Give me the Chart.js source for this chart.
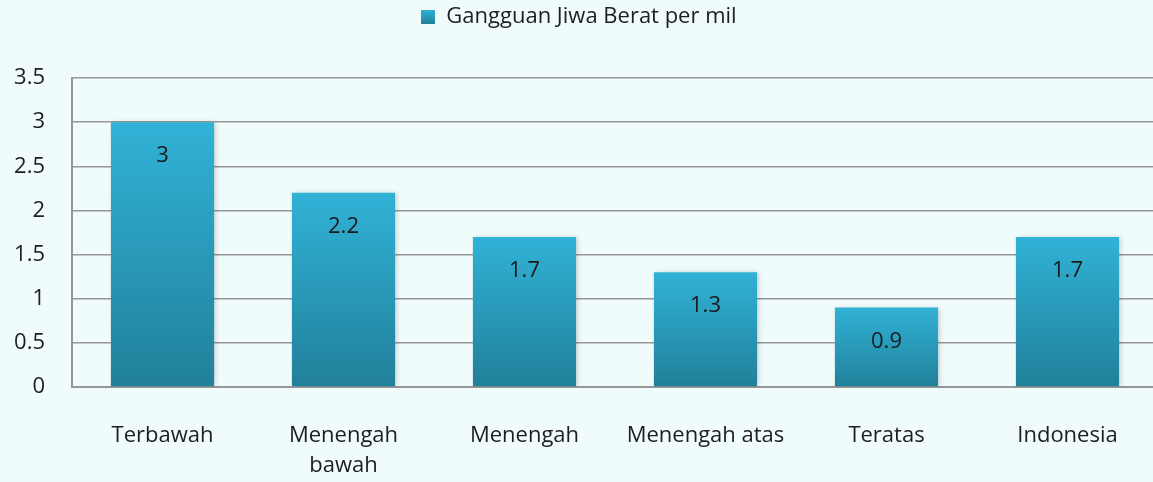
<!DOCTYPE html>
<html>
<head>
<meta charset="utf-8">
<script src="https://cdn.jsdelivr.net/npm/chart.js@4/dist/chart.umd.min.js"></script>
<style>
  html, body { margin: 0; padding: 0; background: #f0fbfc; overflow: hidden; }
  #wrap { width: 1158px; height: 482px; }
</style>
</head>
<body>
<div id="wrap"><canvas id="chart"></canvas></div>
<script>
const categories = [['Terbawah'], ['Menengah', 'bawah'], ['Menengah'], ['Menengah atas'], ['Teratas'], ['Indonesia']];
const values = [3, 2.2, 1.7, 1.3, 0.9, 1.7];
const yTicks = [0, 0.5, 1, 1.5, 2, 2.5, 3, 3.5];
const seriesName = 'Gangguan Jiwa Berat per mil';

Chart.defaults.font.family = "'Open Sans', 'Noto Sans', sans-serif";
Chart.defaults.font.size = 22;
Chart.defaults.color = '#1e1e1e';

function barGradient(context) {
  const chart = context.chart;
  const y = chart.scales.y;
  if (!y || !chart.chartArea) return '#2ba3c6';
  const top = y.getPixelForValue(context.raw);
  const bottom = y.getPixelForValue(0);
  const g = chart.ctx.createLinearGradient(0, top, 0, bottom);
  g.addColorStop(0, '#31b2d7');
  g.addColorStop(1, '#21809a');
  return g;
}

// extra room under the legend
const legendGap = {
  id: 'legendGap',
  beforeInit(chart) {
    const fit = chart.legend.fit;
    chart.legend.fit = function () {
      fit.bind(chart.legend)();
      this.height += 40;
    };
  }
};

const barShadow = {
  id: 'barShadow',
  beforeDatasetDraw(chart) {
    const ctx = chart.ctx;
    ctx.save();
    ctx.shadowColor = 'rgba(0,0,0,0.18)';
    ctx.shadowBlur = 5;
    ctx.shadowOffsetX = 2;
  },
  afterDatasetDraw(chart) {
    chart.ctx.restore();
  }
};

const valueLabels = {
  id: 'valueLabels',
  afterDatasetsDraw(chart) {
    const ctx = chart.ctx;
    const meta = chart.getDatasetMeta(0);
    ctx.save();
    ctx.font = "22px 'Open Sans', 'Noto Sans', sans-serif";
    ctx.fillStyle = '#1a1a1a';
    ctx.textAlign = 'center';
    ctx.textBaseline = 'middle';
    meta.data.forEach((bar, i) => {
      ctx.fillText(String(values[i]), bar.x, bar.y + 34);
    });
    ctx.restore();
  }
};

const swatch = document.createElement('canvas');
swatch.width = 14; swatch.height = 14;
const sctx = swatch.getContext('2d');
const sg = sctx.createLinearGradient(0, 0, 0, 14);
sg.addColorStop(0, '#31b2d7');
sg.addColorStop(1, '#21809a');
sctx.fillStyle = sg;
sctx.fillRect(0, 0, 14, 14);

new Chart(document.getElementById('chart'), {
  type: 'bar',
  data: {
    labels: categories,
    datasets: [{
      label: seriesName,
      data: values,
      backgroundColor: barGradient,
      borderWidth: 0,
      barPercentage: 0.57,
      categoryPercentage: 1
    }]
  },
  options: {
    responsive: true,
    maintainAspectRatio: false,
    animation: false,
    layout: { padding: 0 },
    plugins: {
      legend: {
        position: 'top',
        labels: {
          usePointStyle: true,
          pointStyle: swatch,
          boxWidth: 14,
          boxHeight: 14,
          padding: 6,
          color: '#1e1e1e',
          font: { size: 22 }
        }
      },
      tooltip: { enabled: false }
    },
    scales: {
      x: {
        grid: { display: false, drawTicks: false },
        border: { display: true, color: '#969696', width: 2 },
        ticks: { padding: 34, maxRotation: 0, autoSkip: false, font: { size: 22, lineHeight: 1.36 } },
        afterFit: s => { s.height = 95; }
      },
      y: {
        min: 0,
        max: 3.5,
        afterBuildTicks: s => { s.ticks = yTicks.map(v => ({ value: v })); },
        ticks: { padding: 27, font: { size: 22 }, callback: v => String(v) },
        grid: { color: '#969696', lineWidth: 1.5, drawTicks: false },
        border: { display: true, color: '#969696', width: 2 },
        afterFit: s => { s.width = 72; }
      }
    }
  },
  plugins: [legendGap, barShadow, valueLabels]
});
</script>
</body>
</html>
